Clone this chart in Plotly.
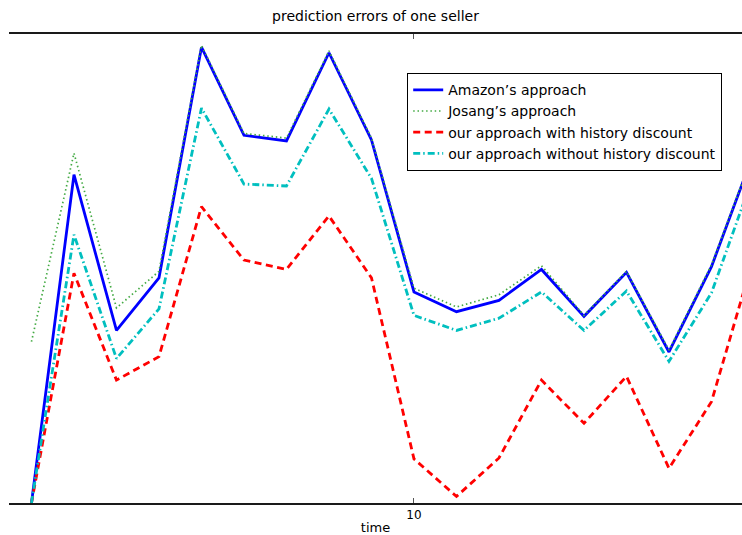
import plotly.graph_objects as go

# time steps
time = list(range(1, 19))

# prediction errors per approach
amazon = [0.000, 0.350, 0.184, 0.240, 0.486, 0.392, 0.386, 0.480, 0.387,
          0.225, 0.204, 0.216, 0.249, 0.199, 0.246, 0.161, 0.252, 0.374]
josang = [0.172, 0.373, 0.208, 0.247, 0.488, 0.394, 0.389, 0.482, 0.389,
          0.229, 0.209, 0.222, 0.253, 0.200, 0.247, 0.163, 0.254, 0.375]
with_discount = [0.000, 0.245, 0.131, 0.156, 0.316, 0.259, 0.249, 0.306, 0.240,
                 0.047, 0.007, 0.048, 0.131, 0.085, 0.135, 0.037, 0.108, 0.263]
without_discount = [0.000, 0.286, 0.154, 0.207, 0.421, 0.340, 0.338, 0.420, 0.346,
                    0.200, 0.184, 0.197, 0.225, 0.184, 0.226, 0.151, 0.224, 0.351]

x_ticks = [10]
x_tick_text = ["10"]

FONT = "DejaVu Sans"

fig = go.Figure()
fig.add_trace(go.Scatter(
    x=time, y=amazon, mode="lines", name="Amazon\u2019s approach",
    line=dict(color="#0000FF", width=2.8)))
fig.add_trace(go.Scatter(
    x=time, y=josang, mode="lines", name="Josang\u2019s approach",
    line=dict(color="#44AA44", width=1.7, dash="1.5px,2.8px")))
fig.add_trace(go.Scatter(
    x=time, y=with_discount, mode="lines", name="our approach with history discount",
    line=dict(color="#FF0000", width=2.8, dash="7px,4.5px")))
fig.add_trace(go.Scatter(
    x=time, y=without_discount, mode="lines", name="our approach without history discount",
    line=dict(color="#00BFBF", width=2.8, dash="7px,3px,1.5px,3px")))

fig.update_layout(
    width=742, height=535,
    margin=dict(l=9, r=0, t=34, b=32),
    paper_bgcolor="white", plot_bgcolor="white",
    font=dict(family=FONT, size=14, color="black"),
    title=dict(text="prediction errors of one seller", x=(9 + 742) / 2 / 742,
               xanchor="center", y=1 - 16 / 535, yanchor="middle",
               font=dict(family=FONT, size=14, color="black")),
    showlegend=True,
    legend=dict(x=(407 - 9) / 733, y=(503 - 73) / 469, xanchor="left", yanchor="top",
                bgcolor="white", bordercolor="black", borderwidth=1.2,
                font=dict(family=FONT, size=14, color="black"),
                tracegroupgap=0),
)

fig.update_xaxes(
    range=[0.471, 17.718],
    tickmode="array", tickvals=x_ticks, ticktext=x_tick_text,
    ticks="inside", ticklen=5, tickwidth=1, tickcolor="#555555",
    tickfont=dict(family=FONT, size=12, color="black"),
    showline=True, linecolor="#1a1a1a", linewidth=2, mirror="ticks",
    showgrid=False, zeroline=False,
    title=dict(text="time", standoff=4, font=dict(family=FONT, size=13, color="black")),
)
fig.update_yaxes(
    range=[0, 0.5], visible=False, showgrid=False, zeroline=False,
)

fig.write_html("out.html")
